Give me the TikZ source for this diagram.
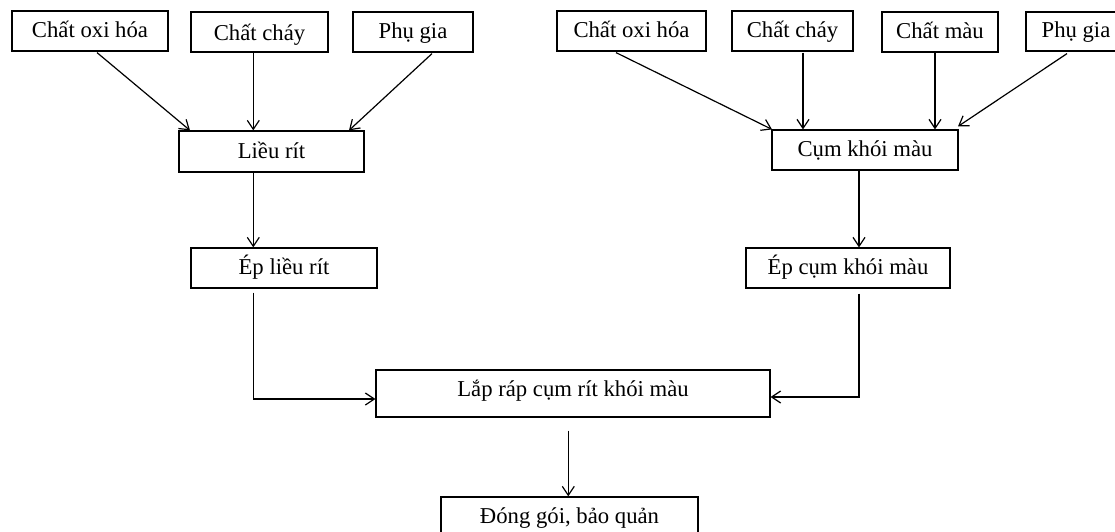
\documentclass[tikz,border=0pt]{standalone}
\usepackage{fontspec}
\setmainfont{Liberation Serif}
\usetikzlibrary{arrows.meta,calc}
\begin{document}
\begin{tikzpicture}[x=1pt,y=-1pt,
  box/.style={draw, line width=1.2pt, inner sep=0pt,
    font=\fontsize{22.7}{27}\selectfont, text height=15pt, text depth=2pt},
  lowtext/.style={text height=18pt, text depth=1.2pt},
  hightext/.style={text height=12pt, text depth=5.6pt},
  arr/.style={line width=1.2pt, -{Straight Barb[length=9pt,width=12pt,line width=1.2pt]}}]
\useasboundingbox (0,0) rectangle (1115,532);
\clip (0,0) rectangle (1115,532);
% left group
\node[box, minimum width=156pt, minimum height=40pt] (lox) at (90,31) {Chất oxi hóa};
\node[box, lowtext, minimum width=137pt, minimum height=40pt] (lch) at (259.5,32) {Chất cháy};
\node[box, minimum width=120pt, minimum height=40pt] (lph) at (413,32) {Phụ gia};
\node[box, minimum width=185pt, minimum height=41pt] (lieu) at (271.5,151.5) {Liều rít};
\node[box, minimum width=186pt, minimum height=40pt] (eplieu) at (284,268) {Ép liều rít};
% right group
\node[box, minimum width=149pt, minimum height=40pt] (rox) at (631.5,31) {Chất oxi hóa};
\node[box, minimum width=121pt, minimum height=40pt] (rch) at (792.5,31) {Chất cháy};
\node[box, minimum width=116pt, minimum height=40pt] (rmau) at (940,32) {Chất màu};
\node[box, minimum width=100pt, minimum height=39pt] (rph) at (1076,31.5) {Phụ gia};
\node[box, minimum width=186pt, minimum height=40pt] (cum) at (865,150) {Cụm khói màu};
\node[box, minimum width=204pt, minimum height=40pt] (epcum) at (848,268) {Ép cụm khói màu};
% bottom
\node[box, hightext, minimum width=394pt, minimum height=47pt] (lap) at (573,393.5) {Lắp ráp cụm rít khói màu};
\node[box, hightext, minimum width=257pt, minimum height=47pt] (dong) at (569.5,520.5) {Đóng gói, bảo quản};
% connectors left
\draw[arr] ($(lox.south)+(7,1)$) -- ($(lieu.north)+(-81.5,0)$);
\draw[arr] ($(lch.south)+(-6.2,0)$) -- ($(lieu.north)+(-18.2,0)$);
\draw[arr] ($(lph.south)+(19,1)$) -- ($(lieu.north)+(77.5,0)$);
\draw[arr] ($(lieu.south)+(-18.2,0)$) -- ($(eplieu.north)+(-30.7,0)$);
\draw[arr] ($(eplieu.south)+(-30.7,4)$) |- ($(lap.west)+(0,5.5)$);
% connectors right
\draw[arr] ($(rox.south)+(-15.5,1)$) -- ($(cum.north)+(-93,0)$);
\draw[arr] ($(rch.south)+(10.5,1)$) -- ($(cum.north)+(-62,0)$);
\draw[arr] ($(rmau.south)+(-5,0)$) -- ($(cum.north)+(70,0)$);
\draw[arr] ($(rph.south)+(-9,2)$) -- ($(cum.north)+(93,-3)$);
\draw[arr] ($(cum.south)+(-6,0)$) -- ($(epcum.north)+(11,0)$);
\draw[arr] ($(epcum.south)+(11,5)$) |- ($(lap.east)+(0,3.5)$);
% to packaging
\draw[arr] ($(lap.south)+(-4.7,13)$) -- ($(dong.north)+(-1.2,0)$);
\end{tikzpicture}
\end{document}
